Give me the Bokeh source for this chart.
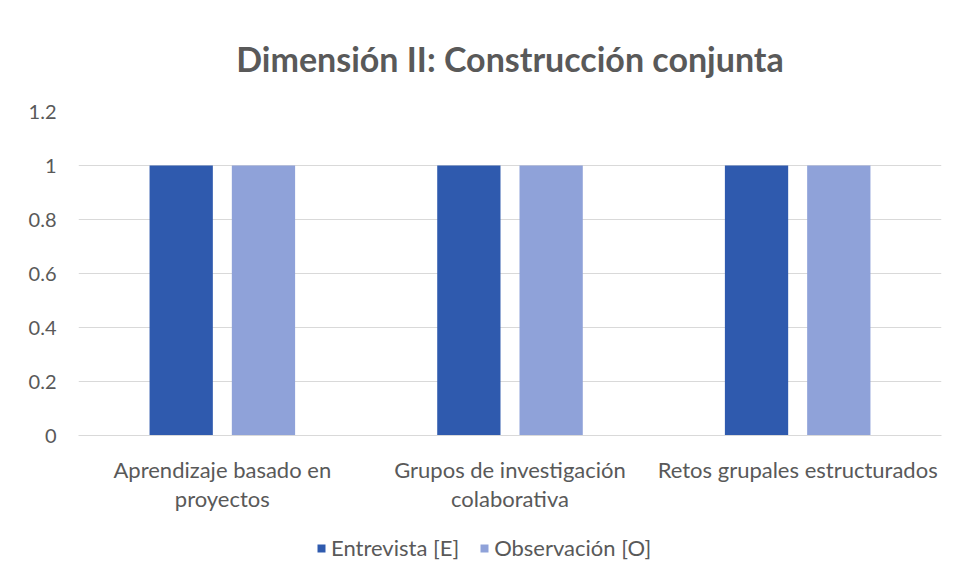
from bokeh.plotting import figure
from bokeh.models import ColumnDataSource, Legend, LegendItem, Range1d, FactorRange, Title
from bokeh.layouts import column
from bokeh.transform import dodge
from bokeh.embed import file_html
from bokeh.resources import INLINE

categories = ["Aprendizaje basado en\nproyectos", "Grupos de investigación\ncolaborativa", "Retos grupales estructurados"]
entrevista = [1, 1, 1]
observacion = [1, 1, 1]
series_names = ["Entrevista [E]", "Observación [O]"]
y_ticks = [0, 0.2, 0.4, 0.6, 0.8, 1, 1.2]

FONT = "Lato"
TEXT = "#595959"
DARK = "#2F5AAE"
LIGHT = "#8FA2D9"
W = 950

src = ColumnDataSource(dict(cat=categories, e=entrevista, o=observacion))
xr = FactorRange(*categories)

p = figure(width=W, height=525, x_range=xr, y_range=Range1d(0, 1.2),
           output_backend="svg", toolbar_location=None,
           min_border_left=78, min_border_right=9, min_border_top=111, min_border_bottom=90)
p.title = None
t = Title(text="Dimensión II: Construcción conjunta", align="center", text_font=FONT,
          text_font_size="34px", text_font_style="bold", text_color=TEXT, offset=0, standoff=66)
p.add_layout(t, "above")

r1 = p.vbar(x=dodge("cat", -0.143, range=xr), top="e", width=0.22, source=src,
            fill_color=DARK, line_color=None)
r2 = p.vbar(x=dodge("cat", 0.143, range=xr), top="o", width=0.22, source=src,
            fill_color=LIGHT, line_color=None)

p.outline_line_color = None
p.border_fill_color = "white"
p.background_fill_color = "white"

p.xgrid.grid_line_color = None
p.ygrid.grid_line_color = "#D9D9D9"
p.ygrid.grid_line_width = 1

p.yaxis.ticker = y_ticks
p.yaxis.axis_line_color = None
p.yaxis.major_tick_line_color = None
p.yaxis.minor_tick_line_color = None
p.yaxis.major_tick_out = 0
p.yaxis.major_label_text_font = FONT
p.yaxis.major_label_text_font_size = "20px"
p.yaxis.major_label_text_color = TEXT
p.yaxis.major_label_standoff = 22

xa = p.xaxis[0]
xa.axis_line_color = "#D9D9D9"
xa.major_tick_line_color = None
xa.minor_tick_line_color = None
xa.major_tick_out = 0
xa.major_label_text_font = FONT
xa.major_label_text_font_size = "22px"
xa.major_label_text_color = TEXT
xa.major_label_text_line_height = 1.1
xa.major_label_standoff = 20

# legend strip below the chart (its bars lie outside its visible y range)
lg = figure(width=W, height=50, output_backend="svg", toolbar_location=None,
            x_range=xr, y_range=Range1d(5, 6),
            min_border_left=0, min_border_right=0, min_border_top=0, min_border_bottom=0)
lg.title = None
lg.axis.visible = False
lg.grid.visible = False
lg.outline_line_color = None
lg.border_fill_color = "white"
l1 = lg.vbar(x=dodge("cat", -0.143, range=xr), top="e", width=0.22, source=src,
             fill_color=DARK, line_color=None)
l2 = lg.vbar(x=dodge("cat", 0.143, range=xr), top="o", width=0.22, source=src,
             fill_color=LIGHT, line_color=None)
legend = Legend(items=[LegendItem(label=series_names[0], renderers=[l1]),
                       LegendItem(label=series_names[1], renderers=[l2])],
                orientation="horizontal", location=(238, 14),
                label_text_font=FONT, label_text_font_size="22px", label_text_color=TEXT,
                glyph_width=10, glyph_height=10, label_standoff=5, spacing=20,
                border_line_color=None, background_fill_alpha=0, padding=0, margin=0)
lg.add_layout(legend, "center")

layout = column(p, lg, spacing=0)
open("out.html", "w").write(file_html(layout, INLINE))
